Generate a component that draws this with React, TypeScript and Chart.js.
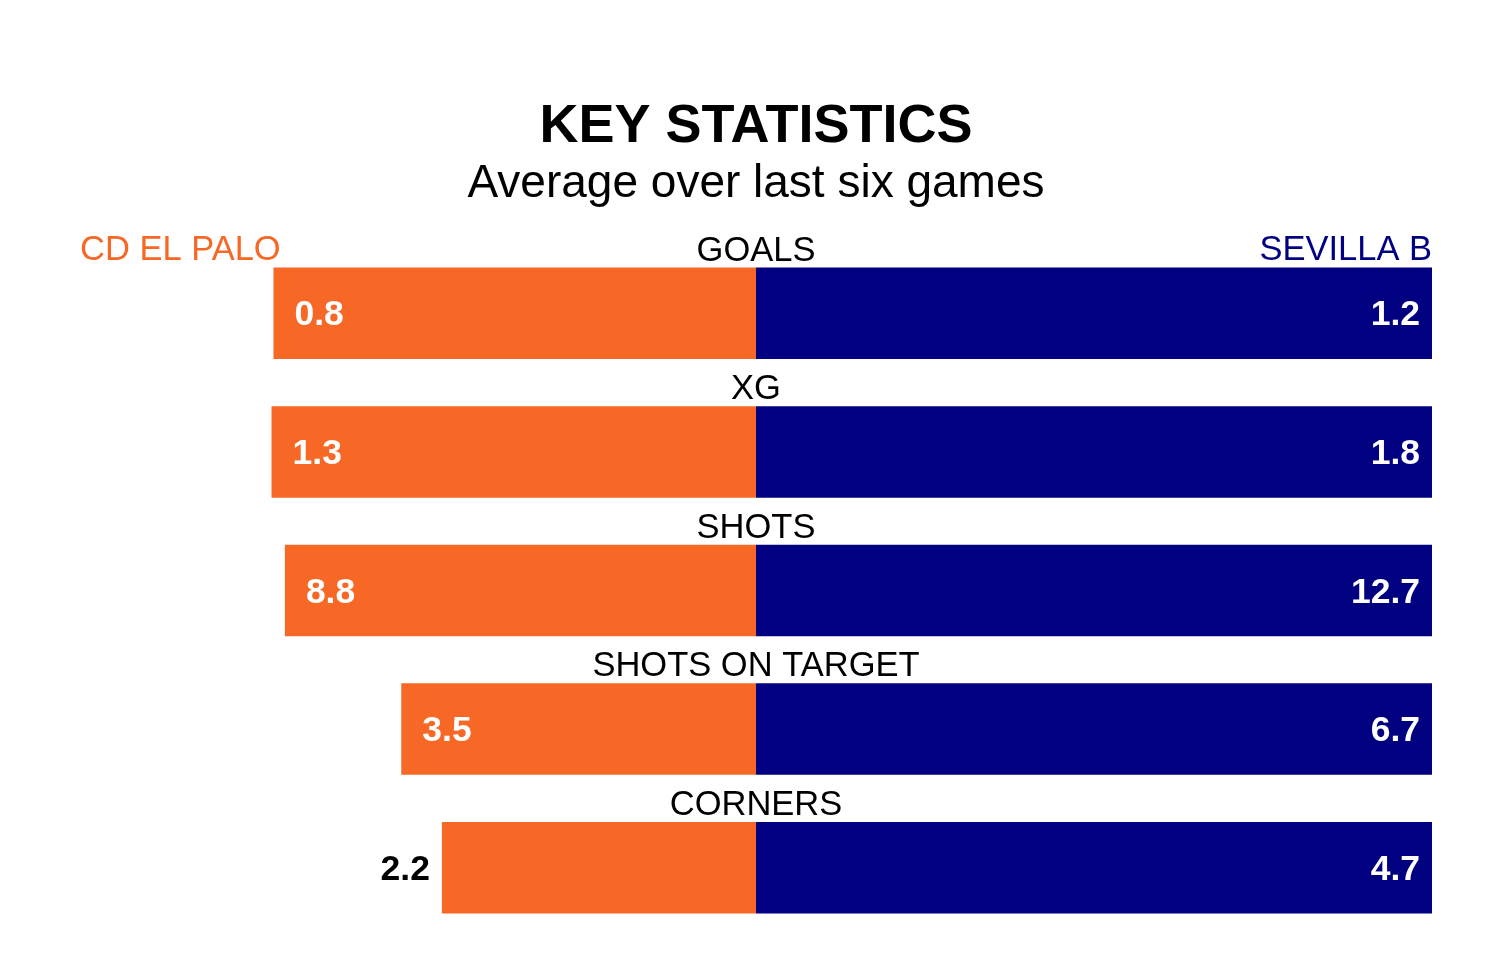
import React, { useEffect, useRef } from "react";
import { Chart, registerables } from "chart.js";

Chart.register(...registerables);

const categories = ["GOALS", "XG", "SHOTS", "SHOTS ON TARGET", "CORNERS"];
const homeTeam = "CD EL PALO";
const awayTeam = "SEVILLA B";
const homeValues = [0.833, 1.29, 8.83, 3.5, 2.17];
const awayValues = [1.167, 1.8, 12.67, 6.67, 4.67];
const titleText = "KEY STATISTICS";
const subtitleText = "Average over last six games";

const ORANGE = "#F76826";
const NAVY = "#000080";
const FONT = '"Liberation Sans", Arial, Helvetica, sans-serif';

export default function App() {
  const ref = useRef<HTMLCanvasElement | null>(null);

  useEffect(() => {
    document.body.style.margin = "0";
    const canvas = ref.current;
    if (!canvas) return;

    const maxes = homeValues.map((h, i) => Math.max(h, awayValues[i]));
    const homeNorm = homeValues.map((h, i) => -h / maxes[i]);
    const awayNorm = awayValues.map((a, i) => a / maxes[i]);

    const textPlugin = {
      id: "textPlugin",
      afterDatasetsDraw(chart: any) {
        const ctx = chart.ctx;
        const area = chart.chartArea;
        const cx = chart.scales.x.getPixelForValue(0);
        ctx.save();
        // title
        ctx.fillStyle = "#000";
        ctx.textAlign = "center";
        ctx.textBaseline = "alphabetic";
        ctx.font = `bold 54px ${FONT}`;
        ctx.fillText(titleText, cx, 142);
        ctx.font = `46px ${FONT}`;
        ctx.fillText(subtitleText, cx, 197);

        const homeMeta = chart.getDatasetMeta(0);
        const awayMeta = chart.getDatasetMeta(1);

        // team names
        const firstBar = awayMeta.data[0];
        const firstTop = firstBar.y - firstBar.height / 2;
        ctx.font = `34.5px ${FONT}`;
        ctx.textAlign = "left";
        ctx.fillStyle = ORANGE;
        ctx.fillText(homeTeam, area.left, firstTop - 8);
        ctx.textAlign = "right";
        ctx.fillStyle = NAVY;
        ctx.fillText(awayTeam, area.right, firstTop - 8);

        categories.forEach((cat, i) => {
          const hb = homeMeta.data[i];
          const ab = awayMeta.data[i];
          const top = ab.y - ab.height / 2;
          ctx.font = `34.5px ${FONT}`;
          ctx.fillStyle = "#000";
          ctx.textAlign = "center";
          ctx.fillText(cat, cx, top - 7);

          ctx.font = `bold 35.5px ${FONT}`;
          const baseY = ab.y + 12;
          // home label
          const hLeft = Math.min(hb.x, hb.base);
          const hLabel = homeValues[i].toFixed(1);
          if (Math.abs(homeNorm[i]) < 0.5) {
            ctx.fillStyle = "#000";
            ctx.textAlign = "right";
            ctx.fillText(hLabel, hLeft - 12, baseY);
          } else {
            ctx.fillStyle = "#fff";
            ctx.textAlign = "left";
            ctx.fillText(hLabel, hLeft + 21, baseY);
          }
          // away label
          const aRight = Math.max(ab.x, ab.base);
          const aLabel = awayValues[i].toFixed(1);
          if (Math.abs(awayNorm[i]) < 0.5) {
            ctx.fillStyle = "#000";
            ctx.textAlign = "left";
            ctx.fillText(aLabel, aRight + 12, baseY);
          } else {
            ctx.fillStyle = "#fff";
            ctx.textAlign = "right";
            ctx.fillText(aLabel, aRight - 12, baseY);
          }
        });
        ctx.restore();
      },
    };

    const chart = new Chart(canvas, {
      type: "bar",
      data: {
        labels: categories,
        datasets: [
          {
            label: homeTeam,
            data: homeNorm,
            backgroundColor: ORANGE,
            borderWidth: 0,
            barPercentage: 0.66,
            categoryPercentage: 1,
          },
          {
            label: awayTeam,
            data: awayNorm,
            backgroundColor: NAVY,
            borderWidth: 0,
            barPercentage: 0.66,
            categoryPercentage: 1,
          },
        ],
      },
      options: {
        indexAxis: "y",
        responsive: false,
        animation: false,
        layout: { padding: { left: 80, right: 68, top: 244, bottom: 26 } },
        plugins: {
          legend: { display: false },
          title: { display: false },
          tooltip: { enabled: false },
        },
        scales: {
          x: { display: false, min: -1, max: 1, stacked: true, grid: { display: false } },
          y: { display: false, stacked: true, grid: { display: false } },
        },
      },
      plugins: [textPlugin],
    });

    return () => chart.destroy();
  }, []);

  return (
    <div style={{ width: 1500, height: 963, background: "#fff" }}>
      <canvas ref={ref} width={1500} height={963} style={{ display: "block" }} />
    </div>
  );
}
